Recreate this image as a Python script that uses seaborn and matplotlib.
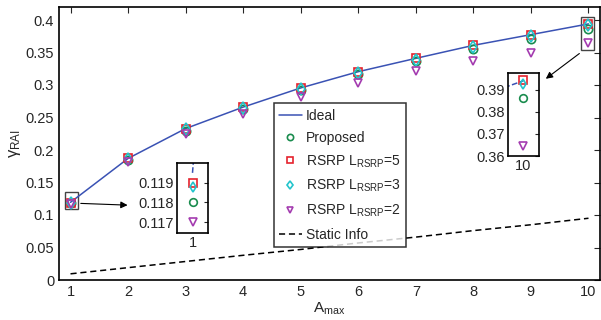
import matplotlib
matplotlib.use("Agg")
import matplotlib.pyplot as plt
import seaborn as sns
import pandas as pd
from matplotlib.patches import Rectangle
from matplotlib.ticker import FormatStrFormatter

# Data
a_max = [1, 2, 3, 4, 5, 6, 7, 8, 9, 10]
ideal = [0.1195, 0.187, 0.233, 0.266, 0.2955, 0.3205, 0.341, 0.361, 0.3775, 0.394]
proposed = [0.118, 0.185, 0.230, 0.263, 0.292, 0.317, 0.337, 0.355, 0.371, 0.386]
rsrp5 = [0.119, 0.187, 0.233, 0.266, 0.2955, 0.3205, 0.341, 0.361, 0.3775, 0.3945]
rsrp3 = [0.1188, 0.186, 0.232, 0.265, 0.294, 0.319, 0.339, 0.359, 0.375, 0.3925]
rsrp2 = [0.117, 0.181, 0.225, 0.256, 0.281, 0.303, 0.321, 0.337, 0.350, 0.3645]
static_info = [0.0095, 0.019, 0.0285, 0.038, 0.047, 0.057, 0.066, 0.076, 0.085, 0.095]

df = pd.DataFrame({"a": a_max, "ideal": ideal, "proposed": proposed,
                   "rsrp5": rsrp5, "rsrp3": rsrp3, "rsrp2": rsrp2,
                   "static": static_info})

sns.set_style("white")
plt.rcParams["font.family"] = ["Liberation Sans", "DejaVu Sans"]
plt.rcParams["mathtext.fontset"] = "custom"
plt.rcParams["mathtext.rm"] = "Liberation Sans"
plt.rcParams["mathtext.it"] = "Liberation Sans:italic"
plt.rcParams["mathtext.default"] = "regular"

c_ideal = "#3a52b4"
c_prop = "#1a8c4e"
c_r5 = "#e5222e"
c_r3 = "#22c4cc"
c_r2 = "#a43cb0"

markers = [("proposed", "o", c_prop, "Proposed"),
           ("rsrp5", "s", c_r5, r"RSRP L$_{RSRP}$=5"),
           ("rsrp3", "d", c_r3, r"RSRP L$_{RSRP}$=3"),
           ("rsrp2", "v", c_r2, r"RSRP L$_{RSRP}$=2")]

fig = plt.figure(figsize=(6.01, 3.2), dpi=100)
ax = fig.add_axes([59 / 601, 1 - 280 / 320, 541 / 601, 273 / 320])


def draw(axis, ms, lw, inset=False):
    sns.lineplot(data=df, x="a", y="ideal", ax=axis, color=c_ideal,
                 linewidth=lw, linestyle="--" if inset else "-",
                 label=None if inset else "Ideal")
    for col, m, c, lab in markers:
        sns.lineplot(data=df, x="a", y=col, ax=axis, linestyle="", marker=m,
                     markersize=ms, markerfacecolor="none", markeredgecolor=c,
                     markeredgewidth=1.2, color=c,
                     label=None if inset else lab)
    if not inset:
        sns.lineplot(data=df, x="a", y="static", ax=axis, color="black",
                     linewidth=1.1, linestyle=(0, (4, 2.5)), label="Static Info")


draw(ax, 6, 1.1)

ax.set_xlim(0.8, 10.2)
ax.set_ylim(0, 0.42)
ax.set_xticks(a_max)
ax.set_yticks([0, 0.05, 0.1, 0.15, 0.2, 0.25, 0.3, 0.35, 0.4])
ax.yaxis.set_major_formatter(FormatStrFormatter("%g"))
ax.tick_params(direction="in", top=True, right=True, length=4, labelsize=10.5)
for s in ax.spines.values():
    s.set_linewidth(1.2)
    s.set_color("black")
ax.set_xlabel(r"A$_{max}$", fontsize=11, labelpad=1)
ax.set_ylabel(r"$\gamma_{RAI}$", fontsize=12, labelpad=2)

leg = ax.legend(loc="upper left", bbox_to_anchor=(0.397, 0.648),
                borderaxespad=0, frameon=True, fancybox=False,
                fontsize=10, handlelength=1.6, handletextpad=0.3,
                labelspacing=0.6, borderpad=0.4, markerscale=0.75)
leg.get_frame().set_edgecolor("black")
leg.get_frame().set_linewidth(1.1)

# zoom boxes in the main axes
ax.add_patch(Rectangle((0.90, 0.109), 0.23, 0.026, fill=False,
                       edgecolor="#444444", linewidth=1))
ax.add_patch(Rectangle((9.87, 0.354), 0.23, 0.050, fill=False,
                       edgecolor="#444444", linewidth=1))
ax.annotate("", xy=(2.04, 0.115), xytext=(1.13, 0.118),
            arrowprops=dict(arrowstyle="-|>", color="black", lw=0.8))
ax.annotate("", xy=(9.22, 0.307), xytext=(9.88, 0.351),
            arrowprops=dict(arrowstyle="-|>", color="black", lw=0.8))

# inset near A_max = 1
ax1 = fig.add_axes([177 / 601, 1 - 233 / 320, 31 / 601, 70 / 320])
draw(ax1, 5.5, 1.1, inset=True)
ax1.set_xlim(0.85, 1.15)
ax1.set_ylim(0.11645, 0.1200)
ax1.set_xticks([1])
ax1.set_yticks([0.117, 0.118, 0.119])
ax1.yaxis.set_major_formatter(FormatStrFormatter("%g"))

# inset near A_max = 10
ax2 = fig.add_axes([508 / 601, 1 - 156 / 320, 31 / 601, 83 / 320])
draw(ax2, 5.5, 1.1, inset=True)
ax2.set_xlim(9.85, 10.15)
ax2.set_ylim(0.36, 0.3975)
ax2.set_xticks([10])
ax2.set_yticks([0.36, 0.37, 0.38, 0.39])
ax2.yaxis.set_major_formatter(FormatStrFormatter("%g"))

for a in (ax1, ax2):
    a.set_xlabel("")
    a.set_ylabel("")
    a.tick_params(direction="in", right=True, length=3, labelsize=10.5, pad=2)
    a.set_facecolor("white")
    for s in a.spines.values():
        s.set_linewidth(1.2)
        s.set_color("black")

fig.savefig("out.png", dpi=100)
